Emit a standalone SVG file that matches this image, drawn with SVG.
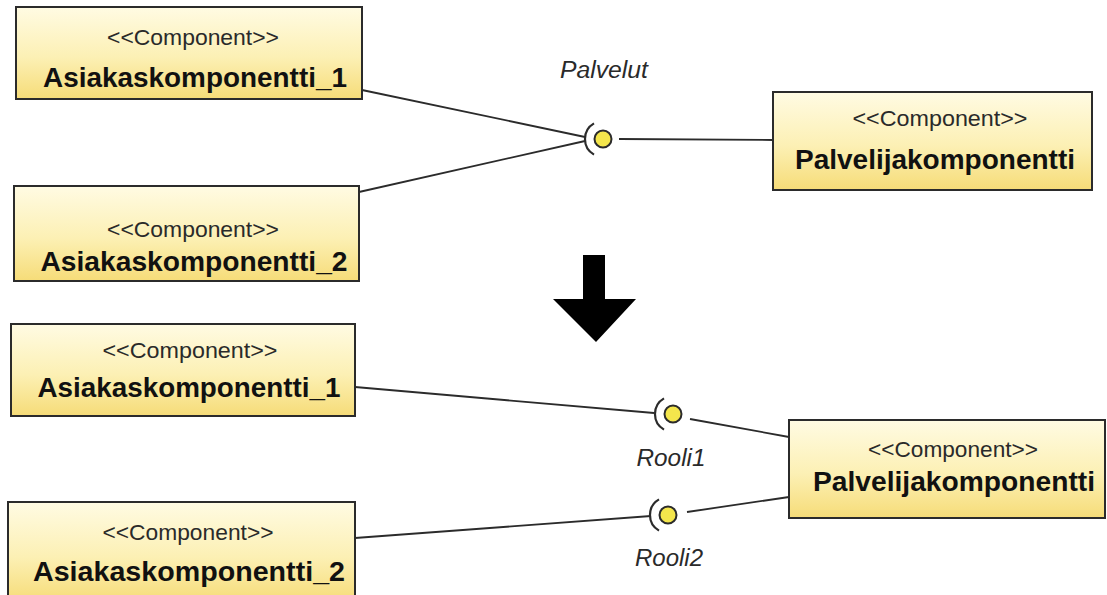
<svg xmlns="http://www.w3.org/2000/svg" width="1107" height="595" viewBox="0 0 1107 595">
  <defs>
    <linearGradient id="compFill" x1="0" y1="0" x2="0" y2="1">
      <stop offset="0" stop-color="#fffbe3"/>
      <stop offset="0.55" stop-color="#fcf0b4"/>
      <stop offset="1" stop-color="#f6dc78"/>
    </linearGradient>
    <style>
      .box { fill: url(#compFill); stroke: #2b2b2b; stroke-width: 2; }
      .stereo { font-family: "Liberation Sans", Arial, sans-serif; font-size: 22px; fill: #2a2a2a; text-anchor: middle; }
      .name { font-family: "Liberation Sans", Arial, sans-serif; font-size: 27px; font-weight: bold; fill: #111; text-anchor: middle; }
      .iface { font-family: "Liberation Sans", Arial, sans-serif; font-size: 23px; font-style: italic; fill: #2a2a2a; text-anchor: middle; }
      .wire { stroke: #2b2b2b; stroke-width: 1.8; fill: none; }
      .socket { stroke: #2b2b2b; stroke-width: 2.2; fill: none; }
      .ball { fill: #f4e64c; stroke: #2b2b2b; stroke-width: 2; }
    </style>
  </defs>

  <rect width="1107" height="595" fill="#ffffff"/>

  <!-- connectors: lines between components and interface symbols -->
  <g id="connectors">
    <line class="wire" x1="362" y1="90" x2="585" y2="137"/>
    <line class="wire" x1="359" y1="192" x2="585" y2="141"/>
    <line class="wire" x1="619" y1="139" x2="773" y2="140"/>

    <line class="wire" x1="355" y1="387" x2="654" y2="413"/>
    <line class="wire" x1="690" y1="419" x2="789" y2="437"/>

    <line class="wire" x1="355" y1="538" x2="651" y2="516"/>
    <line class="wire" x1="687" y1="512" x2="789" y2="497"/>
  </g>

  <!-- provided / required interfaces -->
  <g id="iface-palvelut">
    <path class="socket" d="M 594 123.4 A 18 18 0 0 0 594 154.6"/>
    <circle class="ball" cx="603" cy="139" r="8.5"/>
    <text class="iface" x="604" y="78" textLength="88" lengthAdjust="spacingAndGlyphs">Palvelut</text>
  </g>

  <g id="iface-rooli1">
    <path class="socket" d="M 664 398.4 A 18 18 0 0 0 664 429.6"/>
    <circle class="ball" cx="673" cy="414" r="8.5"/>
    <text class="iface" x="671" y="466" textLength="69" lengthAdjust="spacingAndGlyphs">Rooli1</text>
  </g>

  <g id="iface-rooli2">
    <path class="socket" d="M 659 499.4 A 18 18 0 0 0 659 530.6"/>
    <circle class="ball" cx="668" cy="515" r="8.5"/>
    <text class="iface" x="669" y="566" textLength="68" lengthAdjust="spacingAndGlyphs">Rooli2</text>
  </g>

  <!-- components, before -->
  <g id="asiakas1-top">
    <rect class="box" x="16" y="7" width="346" height="92"/>
    <text class="stereo" x="193" y="45" textLength="172" lengthAdjust="spacingAndGlyphs">&lt;&lt;Component&gt;&gt;</text>
    <text class="name" x="195" y="87" textLength="304" lengthAdjust="spacingAndGlyphs">Asiakaskomponentti_1</text>
  </g>

  <g id="asiakas2-top">
    <rect class="box" x="14" y="186" width="345" height="95"/>
    <text class="stereo" x="193" y="237" textLength="172" lengthAdjust="spacingAndGlyphs">&lt;&lt;Component&gt;&gt;</text>
    <text class="name" x="194" y="271" textLength="307" lengthAdjust="spacingAndGlyphs">Asiakaskomponentti_2</text>
  </g>

  <g id="palvelija-top">
    <rect class="box" x="773" y="92" width="319" height="98"/>
    <text class="stereo" x="940" y="126" textLength="175" lengthAdjust="spacingAndGlyphs">&lt;&lt;Component&gt;&gt;</text>
    <text class="name" x="935" y="169" textLength="280" lengthAdjust="spacingAndGlyphs">Palvelijakomponentti</text>
  </g>

  <!-- transformation arrow -->
  <g id="transform-arrow">
    <polygon points="583,255 605,255 605,299 636,299 596,342 553,299 583,299" fill="#000000"/>
  </g>

  <!-- components, after -->
  <g id="asiakas1-bottom">
    <rect class="box" x="11" y="324" width="344" height="92"/>
    <text class="stereo" x="190" y="358" textLength="175" lengthAdjust="spacingAndGlyphs">&lt;&lt;Component&gt;&gt;</text>
    <text class="name" x="189" y="397" textLength="303" lengthAdjust="spacingAndGlyphs">Asiakaskomponentti_1</text>
  </g>

  <g id="asiakas2-bottom">
    <rect class="box" x="8" y="502" width="347" height="100"/>
    <text class="stereo" x="188" y="540" textLength="171" lengthAdjust="spacingAndGlyphs">&lt;&lt;Component&gt;&gt;</text>
    <text class="name" x="189" y="581" textLength="312" lengthAdjust="spacingAndGlyphs">Asiakaskomponentti_2</text>
  </g>

  <g id="palvelija-bottom">
    <rect class="box" x="789" y="420" width="316" height="98"/>
    <text class="stereo" x="953" y="457" textLength="170" lengthAdjust="spacingAndGlyphs">&lt;&lt;Component&gt;&gt;</text>
    <text class="name" x="954" y="491" textLength="282" lengthAdjust="spacingAndGlyphs">Palvelijakomponentti</text>
  </g>
</svg>
